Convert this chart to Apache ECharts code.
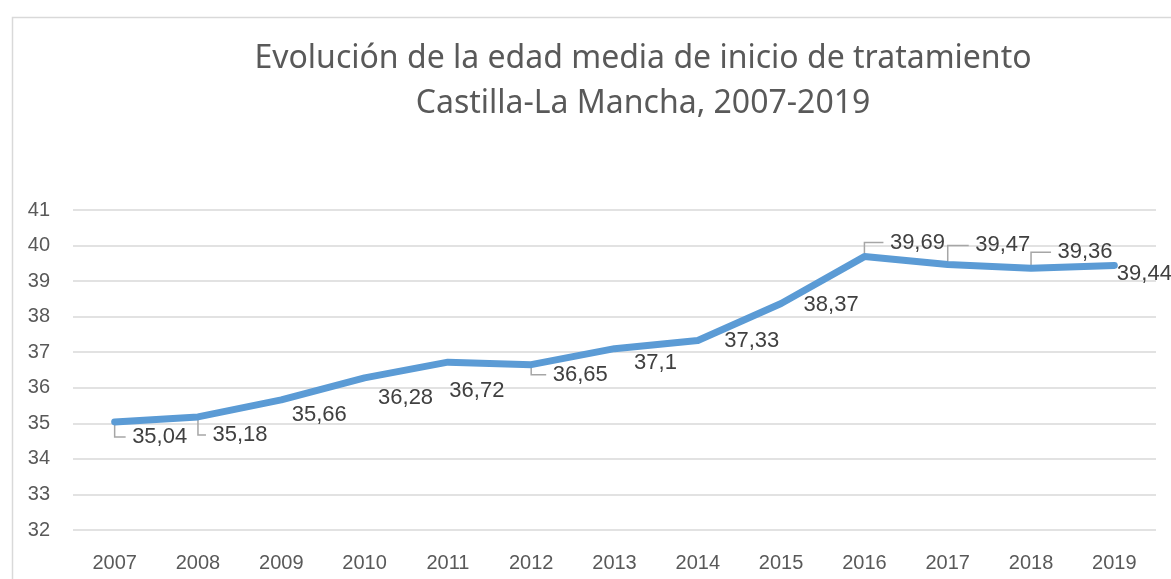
<!DOCTYPE html>
<html>
<head>
<meta charset="utf-8">
<script src="https://cdn.jsdelivr.net/npm/echarts@6/dist/echarts.min.js"></script>
<style>
  html, body { margin: 0; padding: 0; background: #fff; }
  #chart { width: 1171px; height: 579px; }
</style>
</head>
<body>
<div id="chart"></div>
<script>
// data
var years = ["2007", "2008", "2009", "2010", "2011", "2012", "2013",
  "2014", "2015", "2016", "2017", "2018", "2019"];
var edadMedia = [35.04, 35.18, 35.66, 36.28, 36.72, 36.65, 37.1,
  37.33, 38.37, 39.69, 39.47, 39.36, 39.44];
var titleLines = ["Evolución de la edad media de inicio de tratamiento",
  "Castilla-La Mancha, 2007-2019"];

// where each callout sits relative to its point (label centre, px)
var calloutOffsets = [
  [45, 15], [42, 18], [38, 15], [41, 20], [29, 29], [49, 10], [41, 14],
  [54, 0], [50, 1], [53, -14], [55, -19], [54, -16], [30, 8]
];
// which callouts get an elbow leader line
var calloutLeader = [true, true, false, false, false, true, false,
  false, false, true, true, true, false];

var myChart = echarts.init(document.getElementById("chart"));

var option = {
  animation: false,
  textStyle: { fontFamily: "Liberation Sans, Arial, sans-serif" },
  title: {
    text: titleLines.join("\n"),
    left: 638,
    top: 31,
    textAlign: "center",
    textStyle: {
      fontFamily: "Noto Sans",
      fontWeight: "normal",
      fontSize: 32,
      lineHeight: 45,
      color: "#595959",
    },
  },
  graphic: [
    {
      type: "rect",
      left: 10,
      top: 15,
      shape: { width: 1300, height: 700 },
      style: { fill: "none", stroke: "#d9d9d9", lineWidth: 1.5 },
      silent: true,
    },
  ],
  grid: {
    left: 73,
    right: 15,
    top: 210,
    bottom: 49,
  },
  xAxis: {
    type: "category",
    data: years,
    boundaryGap: true,
    axisLine: { show: false },
    axisTick: { show: false },
    axisLabel: { color: "#595959", fontSize: 20, margin: 23 },
  },
  yAxis: {
    type: "value",
    min: 32,
    max: 41,
    interval: 1,
    axisLine: { show: false },
    axisTick: { show: false },
    axisLabel: { color: "#595959", fontSize: 20, margin: 23 },
    splitLine: { lineStyle: { color: "#d9d9d9", width: 1.5 } },
  },
  series: [
    {
      // elbow leader lines of the callouts
      type: "custom",
      z: 1,
      silent: true,
      data: edadMedia.map(function (v, i) { return [i, v]; }),
      renderItem: function (params, api) {
        var i = params.dataIndex;
        if (!calloutLeader[i]) return null;
        var p = api.coord([api.value(0), api.value(1)]);
        var off = calloutOffsets[i];
        return {
          type: "polyline",
          shape: {
            points: [[p[0], p[1]], [p[0], p[1] + off[1]], [p[0] + off[0] - 34, p[1] + off[1]]],
          },
          style: { fill: "none", stroke: "#a6a6a6", lineWidth: 1.5 },
        };
      },
    },
    {
      type: "line",
      z: 2,
      data: edadMedia,
      showSymbol: true,
      symbol: "circle",
      symbolSize: 1,
      itemStyle: { color: "#5b9bd5" },
      lineStyle: { color: "#5b9bd5", width: 7, cap: "round", join: "round" },
      label: {
        show: true,
        position: "inside",
        color: "#404040",
        fontSize: 22,
        formatter: function (p) {
          return String(p.value).replace(".", ",");
        },
      },
      labelLayout: function (params) {
        var off = calloutOffsets[params.dataIndex];
        return { dx: off[0], dy: off[1] };
      },
    },
  ],
};

myChart.setOption(option);
</script>
</body>
</html>
